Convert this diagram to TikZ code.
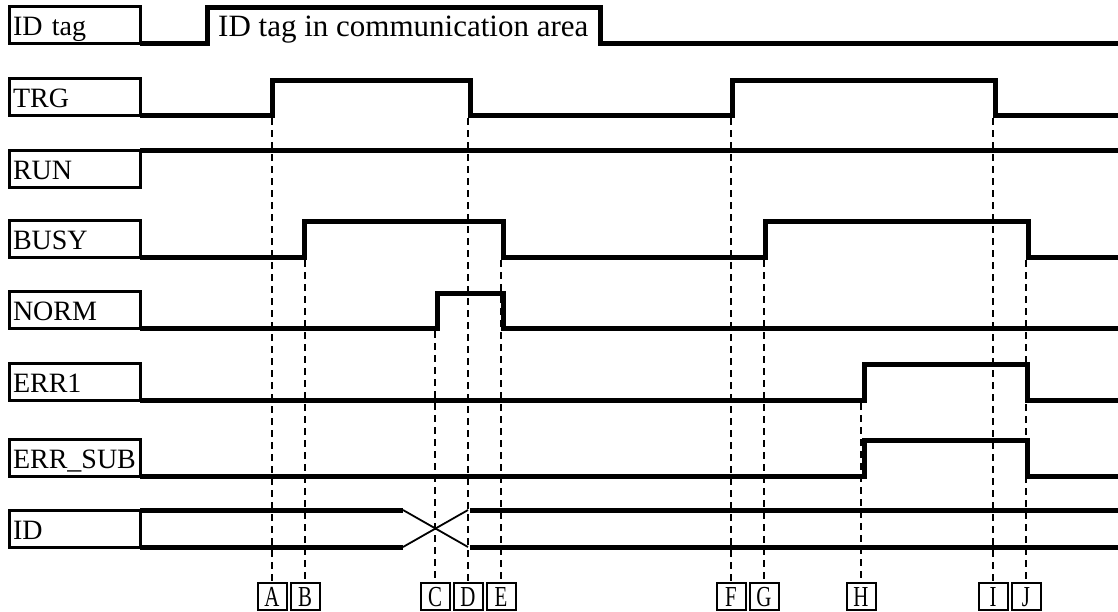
\documentclass[tikz,border=0pt]{standalone}
\usepackage{fontspec}
\setmainfont{Liberation Serif}
\usepackage{graphicx}
\begin{document}
\begin{tikzpicture}[x=1pt,y=-1pt,
  sig/.style={line width=5pt, line join=miter},
  thinx/.style={line width=1.8pt},
  lblbox/.style={draw, line width=3pt, anchor=north west, outer sep=0pt,
    minimum height=37pt, text width=123pt, inner xsep=4pt, inner ysep=0pt,
    align=left, text height=22pt, text depth=0pt,
    font=\fontsize{28}{30}\selectfont},
  dsh/.style={line width=2pt, dash pattern=on 7pt off 5pt},
  letbox/.style={draw, line width=2pt, minimum width=29pt, minimum height=27pt,
    inner sep=0pt, outer sep=0pt, text height=19pt, text depth=0pt,
    font=\fontsize{29}{29}\selectfont}]
\useasboundingbox (0,0) rectangle (1118,611);
% label boxes
\node[lblbox] (lidtag) at (9,6)   {ID tag};
\node[lblbox] (ltrg)   at (9,78)  {TRG};
\node[lblbox] (lrun)   at (9,150) {RUN};
\node[lblbox] (lbusy)  at (9,220) {BUSY};
\node[lblbox] (lnorm)  at (9,291) {NORM};
\node[lblbox] (lerr)   at (9,363) {ERR1};
\node[lblbox] (lsub)   at (9,439) {ERR\_SUB};
\node[lblbox] (lid)    at (9,510) {ID};
% ID tag
\draw[sig] (lidtag.south east) -- (207,43) -- (207,7) -- (600,7) -- (600,43) -- (1118,43);
\node[anchor=base west, inner sep=0pt, font=\fontsize{31}{33}\selectfont] (idtxt) at (218,36) {ID tag in communication area};
% TRG
\draw[sig] (ltrg.south east) -- (272,115) -- (272,80) -- (470,80) -- (470,115) -- (732,115) -- (732,80) -- (995,80) -- (995,115) -- (1118,115);
% RUN
\draw[sig] (lrun.north east) -- (1118,150);
% BUSY
\draw[sig] (lbusy.south east) -- (304,257) -- (304,221) -- (503,221) -- (503,257) -- (765,257) -- (765,221) -- (1028,221) -- (1028,257) -- (1118,257);
% NORM
\draw[sig] (lnorm.south east) -- (437,328) -- (437,293) -- (503,293) -- (503,328) -- (1118,328);
% ERR1
\draw[sig] (lerr.south east) -- (864,400) -- (864,364) -- (1027,364) -- (1027,400) -- (1118,400);
% ERR_SUB
\draw[sig] (lsub.south east) -- (864,476) -- (864,440) -- (1027,440) -- (1027,476) -- (1118,476);
% ID
\draw[sig] (lid.north east) -- (403,510);
\draw[sig] (lid.south east) -- (403,547);
\draw[thinx] (403,510) -- (468,547);
\draw[thinx] (403,547) -- (468,510);
\draw[sig] (470,510) -- (1118,510);
\draw[sig] (470,547) -- (1118,547);
% letter boxes
\foreach \n/\x in {A/272,B/305,C/435,D/468,E/501,F/731,G/764,H/861,I/993,J/1026}{
  \node[letbox] (b\n) at (\x,596.5) {\scalebox{0.72}[1]{\n}};
}
% dashed start points
\coordinate (tA) at (272,118);
\coordinate (tB) at (305,260);
\coordinate (tC) at (435,331);
\coordinate (tD) at (468,118);
\coordinate (tE) at (501,260);
\coordinate (tF) at (731,118);
\coordinate (tG) at (764,260);
\coordinate (tH) at (861,403);
\coordinate (tI) at (993,118);
\coordinate (tJ) at (1026,260);
\foreach \n in {A,B,C,D,E,F,G,H,I,J}{
  \draw[dsh] (t\n) -- (b\n.north);
}
\end{tikzpicture}
\end{document}
